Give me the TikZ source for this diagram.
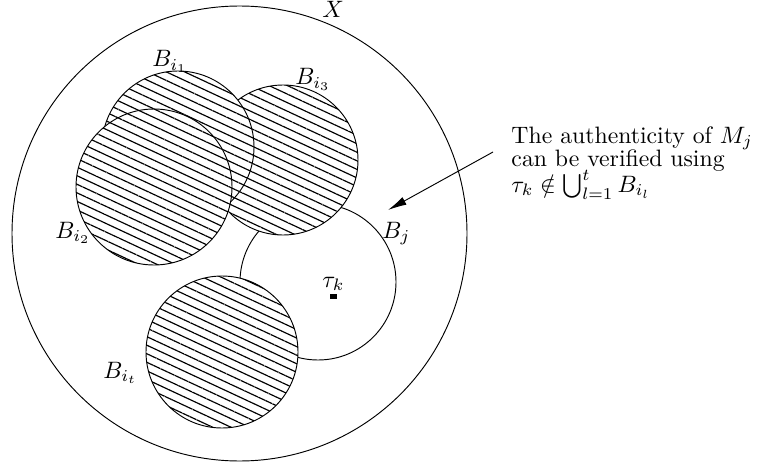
\RequirePackage{fix-cm}
\documentclass[tikz,border=0pt]{standalone}
\usepackage{amsmath,amssymb}
\usetikzlibrary{patterns.meta,arrows.meta}
\begin{document}
\begin{tikzpicture}[x=0.4255pt,y=-0.4255pt,
  ball/.style={circle,draw,inner sep=0pt,minimum size=#1*0.4255pt},
  hatched/.style={fill=white,postaction={pattern={Lines[angle=-25,distance=3.3pt,line width=0.5pt]}}},
  lbl/.style={anchor=base west,inner sep=0pt,font=\fontsize{10.1}{12}\selectfont},
  txt/.style={anchor=base west,inner sep=0pt,font=\fontsize{10.1}{12}\selectfont}]
\useasboundingbox (0,0) rectangle (759,465);
% big set X
\node[ball=455] (X) at (239.5,233.5) {};
\node[lbl] (Xl) at (322,18) {$X$};
% B_j (plain)
\node[ball=156] (Bj) at (318,282) {};
% hatched balls
\node[ball=150,hatched] (Bi3) at (283,160) {};
\node[ball=152,hatched] (Bi1) at (178,147) {};
\node[ball=156,hatched] (Bi2) at (154,187) {};
\node[ball=152,hatched] (Bit) at (222,352) {};
% labels
\node[lbl] (Bi1l) at (152,67) {$B_{i_1}$};
\node[lbl] (Bi3l) at (295,85) {$B_{i_3}$};
\node[lbl] (Bi2l) at (55,238) {$B_{i_2}$};
\node[lbl] (Bjl) at (382,238) {$B_j$};
\node[lbl] (Bitl) at (103,378) {$B_{i_t}$};
% tau_k
\node[lbl] (taul) at (322,287) {$\tau_k$};
\node[fill,inner sep=0pt,minimum width=2.6pt,minimum height=2pt] (tau) at (333.5,296.5) {};
% annotation
\node[txt] (t1) at (511,143) {The authenticity of $M_j$};
\node[txt] (t2) at (511,166) {can be verified using};
\node[txt] (t3) at (511,192) {$\tau_k \notin \bigcup_{l=1}^t B_{i_l}$};
\coordinate (as) at (493,152);
\coordinate (ae) at (388,210);
\draw[-{Latex[length=8pt,width=3.6pt]}] (as) -- (ae);
\end{tikzpicture}
\end{document}
